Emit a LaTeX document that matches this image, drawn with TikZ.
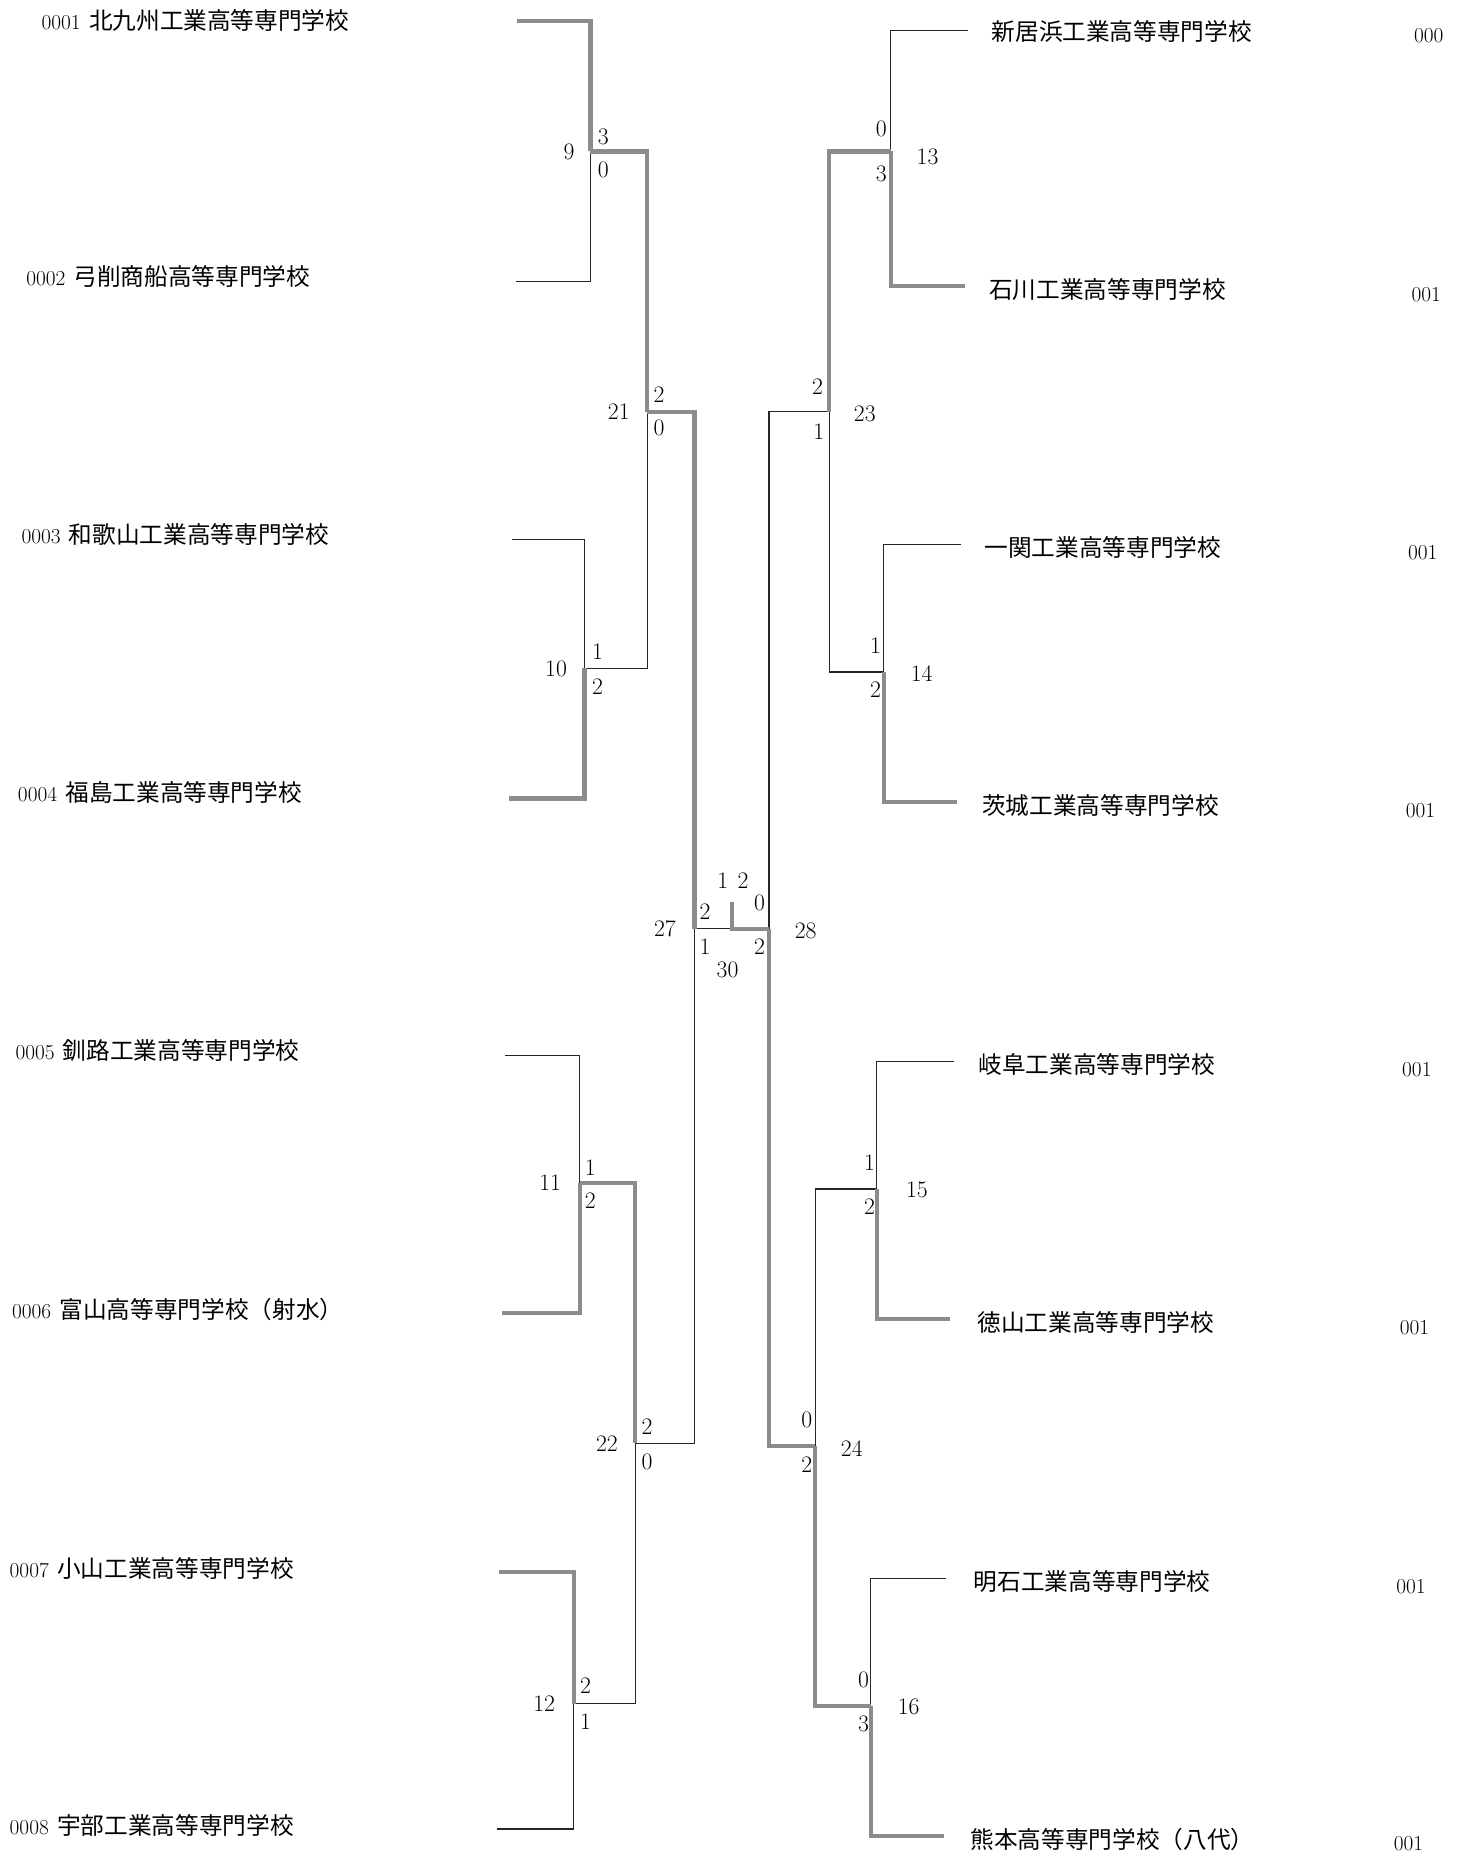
\documentclass[tikz,border=0pt]{standalone}
\usepackage{fontspec}
\newfontfamily\cjk{Noto Sans CJK JP}
\begin{document}
\begin{tikzpicture}[x=1pt,y=-1pt,
  lose/.style={draw=black!85,line width=1pt},
  win/.style={draw=black!45,line width=3.6pt,line join=miter},
  leftteam/.style={anchor=west,inner sep=0pt,font=\fontsize{18}{18}\selectfont},
  jpname/.style={anchor=west,inner sep=0pt,font=\cjk\fontsize{20}{20}\selectfont},
  teamcode/.style={anchor=west,inner sep=0pt,font=\fontsize{18}{18}\selectfont},
  scorenum/.style={inner sep=0pt,font=\fontsize{20}{20}\selectfont}]
\useasboundingbox (0,0) rectangle (1240,1573);
\fill[white] (0,0) rectangle (1240,1573);

% ---------- team labels, left ----------
\node[leftteam] (L1) at (35,17)   {0001\hspace{7pt}{\cjk\fontsize{20}{20}\selectfont 北九州工業高等専門学校}};
\node[leftteam] (L2) at (22,234)  {0002\hspace{7pt}{\cjk\fontsize{20}{20}\selectfont 弓削商船高等専門学校}};
\node[leftteam] (L3) at (18,452)  {0003\hspace{7pt}{\cjk\fontsize{20}{20}\selectfont 和歌山工業高等専門学校}};
\node[leftteam] (L4) at (15,670)  {0004\hspace{7pt}{\cjk\fontsize{20}{20}\selectfont 福島工業高等専門学校}};
\node[leftteam] (L5) at (13,888)  {0005\hspace{7pt}{\cjk\fontsize{20}{20}\selectfont 釧路工業高等専門学校}};
\node[leftteam] (L6) at (10,1107) {0006\hspace{7pt}{\cjk\fontsize{20}{20}\selectfont 富山高等専門学校（射水）}};
\node[leftteam] (L7) at (8,1326)  {0007\hspace{7pt}{\cjk\fontsize{20}{20}\selectfont 小山工業高等専門学校}};
\node[leftteam] (L8) at (8,1543)  {0008\hspace{7pt}{\cjk\fontsize{20}{20}\selectfont 宇部工業高等専門学校}};

% ---------- team labels, right ----------
\node[jpname] (R1) at (838,27)   {新居浜工業高等専門学校};
\node[jpname] (R2) at (836,245)  {石川工業高等専門学校};
\node[jpname] (R3) at (832,463)  {一関工業高等専門学校};
\node[jpname] (R4) at (830,681)  {茨城工業高等専門学校};
\node[jpname] (R5) at (827,900)  {岐阜工業高等専門学校};
\node[jpname] (R6) at (826,1118) {徳山工業高等専門学校};
\node[jpname] (R7) at (823,1337) {明石工業高等専門学校};
\node[jpname] (R8) at (820,1555) {熊本高等専門学校（八代）};
\node[teamcode] (C1) at (1195,30)   {000};
\node[teamcode] (C2) at (1193,249)  {001};
\node[teamcode] (C3) at (1190,467)  {001};
\node[teamcode] (C4) at (1188,685)  {001};
\node[teamcode] (C5) at (1185,904)  {001};
\node[teamcode] (C6) at (1183,1122) {001};
\node[teamcode] (C7) at (1180,1341) {001};
\node[teamcode] (C8) at (1178,1558) {001};

% ---------- bracket coordinates ----------
\coordinate (t1) at (437,18);
\coordinate (t2) at (436,238);
\coordinate (t3) at (433,456);
\coordinate (t4) at (430,675);
\coordinate (t5) at (427,892);
\coordinate (t6) at (424,1110);
\coordinate (t7) at (422,1329);
\coordinate (t8) at (420,1546);
\coordinate (m9)  at (499,128);
\coordinate (m10) at (494,565);
\coordinate (m11) at (490,1000);
\coordinate (m12) at (485,1440);
\coordinate (m21) at (547,348);
\coordinate (m22) at (537,1220);
\coordinate (m27) at (587,785);

\coordinate (r1) at (818,26);
\coordinate (r2) at (816,242);
\coordinate (r3) at (812,460);
\coordinate (r4) at (809,678);
\coordinate (r5) at (806,897);
\coordinate (r6) at (803,1115);
\coordinate (r7) at (800,1334);
\coordinate (r8) at (798,1552);
\coordinate (m13) at (753,128);
\coordinate (m14) at (747,568);
\coordinate (m15) at (741,1005);
\coordinate (m16) at (736,1442);
\coordinate (m23) at (701,348);
\coordinate (m24) at (689,1222);
\coordinate (m28) at (650,785);
\coordinate (m30) at (619,785);
\coordinate (top30) at (619,762);

% ---------- losing paths (thin) ----------
\draw[lose] (t2) -| (m9);
\draw[lose] (t3) -| (m10);
\draw[lose] (m10) -| (m21);
\draw[lose] (t5) -| (m11);
\draw[lose] (t8) -| (m12);
\draw[lose] (m12) -| (m22);
\draw[lose] (m22) -| (m27);
\draw[lose] (m27) -- (m30);
\draw[lose] (r1) -| (m13);
\draw[lose] (r3) -| (m14);
\draw[lose] (m14) -| (m23);
\draw[lose] (m23) -| (m28);
\draw[lose] (r5) -| (m15);
\draw[lose] (m15) -| (m24);
\draw[lose] (r7) -| (m16);

% ---------- winning paths (thick grey) ----------
\draw[win] (t1) -| (m9);
\draw[win] (m9) -| (m21);
\draw[win] (t4) -| (m10);
\draw[win] (m21) -| (m27);
\draw[win] (t6) -| (m11);
\draw[win] (m11) -| (m22);
\draw[win] (t7) -| (m12);
\draw[win] (r2) -| (m13);
\draw[win] (m13) -| (m23);
\draw[win] (r4) -| (m14);
\draw[win] (r6) -| (m15);
\draw[win] (r8) -| (m16);
\draw[win] (m16) -| (m24);
\draw[win] (m24) -| (m28);
\draw[win] (m28) -- (m30) -- (top30);

% ---------- match numbers and scores ----------
\node[scorenum] (n9)  at (481,128) {9};
\node[scorenum] (s9a) at (510,116) {3};
\node[scorenum] (s9b) at (510,144) {0};
\node[scorenum] (n21) at (523,348) {21};
\node[scorenum] (s21a) at (557,334) {2};
\node[scorenum] (s21b) at (557,362) {0};
\node[scorenum] (n10) at (470,565) {10};
\node[scorenum] (s10a) at (505,551) {1};
\node[scorenum] (s10b) at (505,580) {2};
\node[scorenum] (n27) at (562,785) {27};
\node[scorenum] (s27a) at (596,771) {2};
\node[scorenum] (s27b) at (596,800) {1};
\node[scorenum] (n11) at (465,1000) {11};
\node[scorenum] (s11a) at (499,987) {1};
\node[scorenum] (s11b) at (499,1015) {2};
\node[scorenum] (n22) at (513,1220) {22};
\node[scorenum] (s22a) at (547,1206) {2};
\node[scorenum] (s22b) at (547,1236) {0};
\node[scorenum] (n12) at (460,1440) {12};
\node[scorenum] (s12a) at (495,1425) {2};
\node[scorenum] (s12b) at (495,1455) {1};

\node[scorenum] (s30a) at (611,744) {1};
\node[scorenum] (s30b) at (628,744) {2};
\node[scorenum] (n30) at (615,820) {30};
\node[scorenum] (s28a) at (642,763) {0};
\node[scorenum] (s28b) at (642,800) {2};
\node[scorenum] (n28) at (681,787) {28};

\node[scorenum] (n13) at (784,133) {13};
\node[scorenum] (s13a) at (745,109) {0};
\node[scorenum] (s13b) at (745,147) {3};
\node[scorenum] (n23) at (731,350) {23};
\node[scorenum] (s23a) at (691,327) {2};
\node[scorenum] (s23b) at (692,365) {1};
\node[scorenum] (n14) at (779,569) {14};
\node[scorenum] (s14a) at (740,546) {1};
\node[scorenum] (s14b) at (740,583) {2};
\node[scorenum] (n15) at (775,1006) {15};
\node[scorenum] (s15a) at (735,983) {1};
\node[scorenum] (s15b) at (735,1020) {2};
\node[scorenum] (n24) at (720,1224) {24};
\node[scorenum] (s24a) at (682,1200) {0};
\node[scorenum] (s24b) at (682,1238) {2};
\node[scorenum] (n16) at (768,1443) {16};
\node[scorenum] (s16a) at (730,1420) {0};
\node[scorenum] (s16b) at (730,1457) {3};
\end{tikzpicture}
\end{document}
